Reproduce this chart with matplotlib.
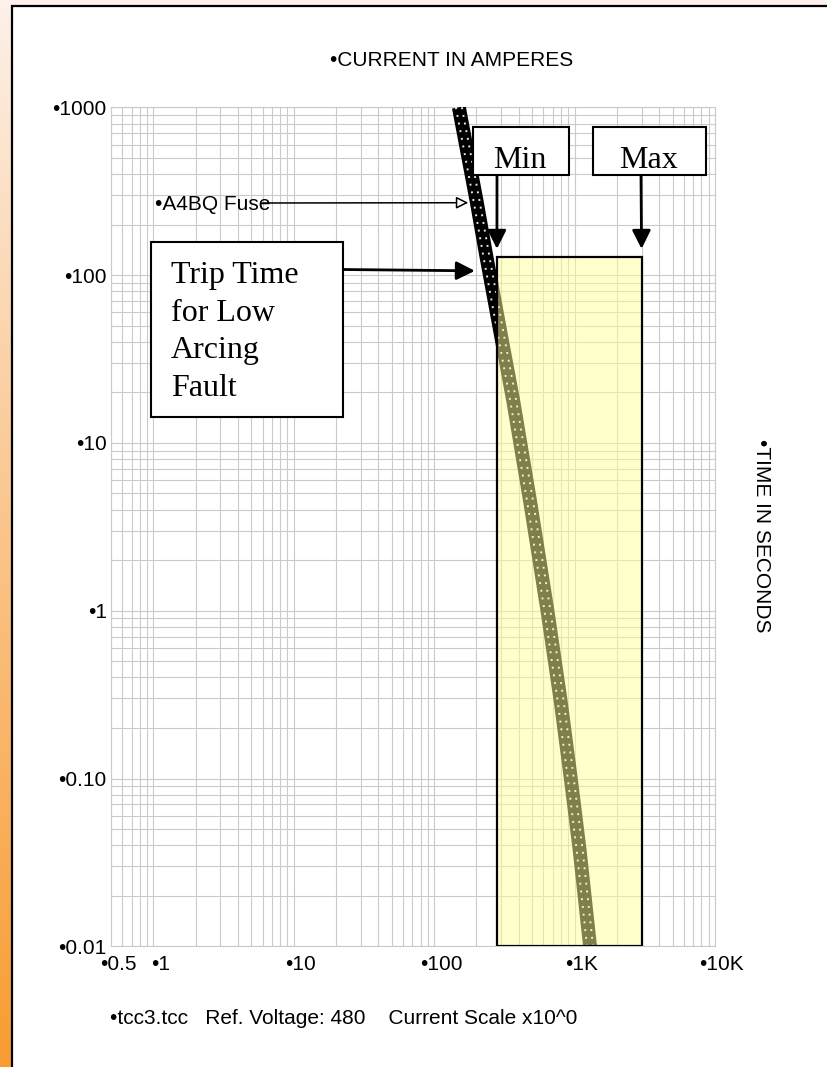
import numpy as np
import matplotlib
matplotlib.use("Agg")
import matplotlib.pyplot as plt
from matplotlib.patches import Rectangle
from matplotlib.ticker import LogLocator, NullFormatter, FixedLocator
from matplotlib.transforms import offset_copy, ScaledTranslation

# --- data ---
fuse_current = [150, 200, 236, 310, 365, 482, 641, 794, 940, 1086, 1289]    # amperes
fuse_time = [1000, 280, 128, 37.3, 18, 4.5, 1, 0.294, 0.1, 0.0376, 0.01]     # seconds

arc_min_current = 280     # low arcing fault, min current
arc_max_current = 3000    # max current
arc_trip_time = 128       # trip time for low arcing fault

x_ticks = [0.5, 1, 10, 100, 1000, 10000]
x_labels = ["\u20220.5", "\u20221", "\u202210", "\u2022100", "\u20221K", "\u202210K"]
y_ticks = [0.01, 0.1, 1, 10, 100, 1000]
y_labels = ["\u20220.01", "\u20220.10", "\u20221", "\u202210", "\u2022100", "\u20221000"]

SANS = ["Liberation Sans", "DejaVu Sans"]
SERIF = ["Liberation Serif", "DejaVu Serif"]
FS = 15
W, H = 827, 1067


def fp(x, y):
    """pixel position (from top-left) -> figure fraction"""
    return (x / W, 1 - y / H)


fig = plt.figure(figsize=(W / 100, H / 100), dpi=100)

# background: pale frame with orange gradient strip on the left
bg = fig.add_axes([0, 0, 1, 1], zorder=-5)
bg.axis("off")
bg.add_patch(Rectangle((0, 0), W, H, color="#fdf1ea", lw=0, zorder=0))
c_top = np.array([253, 241, 234]) / 255
c_bot = np.array([248, 156, 50]) / 255
t = np.linspace(0, 1, 256) ** 0.95
grad = (c_top[None, :] * (1 - t[:, None]) + c_bot[None, :] * t[:, None])[:, None, :]
bg.imshow(grad, extent=[0, 12, H, 0], aspect="auto", interpolation="bilinear", zorder=1)
bg.add_patch(Rectangle((12, 5), W, H, facecolor="white", edgecolor="none", zorder=2))
bg.plot([12, 12, W], [H, 5.5, 5.5], color="black", lw=1.6, solid_joinstyle="miter", zorder=3)
bg.set_xlim(0, W)
bg.set_ylim(H, 0)

# main log-log axes
ax = fig.add_axes([111 / W, 1 - 946.3 / H, 604 / W, 839 / H])
ax.set_xscale("log")
ax.set_yscale("log")
ax.set_xlim(0.5, 10000)
ax.set_ylim(0.01, 1000)

ax.xaxis.set_major_locator(FixedLocator(x_ticks))
ax.set_xticklabels(x_labels)
ax.yaxis.set_major_locator(FixedLocator(y_ticks))
ax.set_yticklabels(y_labels)
ax.xaxis.set_minor_locator(LogLocator(base=10, subs=range(2, 10), numticks=50))
ax.yaxis.set_minor_locator(LogLocator(base=10, subs=range(2, 10), numticks=50))
ax.xaxis.set_minor_formatter(NullFormatter())
ax.yaxis.set_minor_formatter(NullFormatter())
ax.tick_params(which="both", length=0)
ax.tick_params(axis="x", pad=6)
ax.tick_params(axis="y", pad=3)
for lab in ax.get_xticklabels():
    lab.set_fontfamily(SANS)
    lab.set_fontsize(FS)
    lab.set_transform(lab.get_transform() + ScaledTranslation(7 / 100, 0, fig.dpi_scale_trans))
for lab in ax.get_yticklabels():
    lab.set_fontfamily(SANS)
    lab.set_fontsize(FS)

ax.grid(True, which="both", color="#cacaca", lw=0.8)
for s in ax.spines.values():
    s.set_color("#cacaca")
    s.set_linewidth(0.8)
ax.set_axisbelow(True)

# fuse curve: black band with white dots
ax.plot(fuse_current, fuse_time, color="black", lw=10, solid_capstyle="butt",
        solid_joinstyle="round", zorder=3)
for dx in (-3.0, 3.0):
    tr = offset_copy(ax.transData, fig=fig, x=dx, y=0, units="dots")
    ax.plot(fuse_current, fuse_time, color="white", lw=1.4, ls=(0, (1, 3.0)),
            transform=tr, zorder=4, alpha=0.9)

# arcing fault region (semi-transparent yellow)
ax.add_patch(Rectangle((arc_min_current, 0.01), arc_max_current - arc_min_current,
                       arc_trip_time - 0.01, facecolor=(1, 1, 0.6, 0.5),
                       edgecolor="black", lw=1.6, zorder=5))

# axis titles
fig.text(*fp(452, 61), "\u2022CURRENT IN AMPERES", ha="center", va="center",
         fontsize=FS, family=SANS)
fig.text(*fp(761, 536), "\u2022TIME IN SECONDS", ha="center", va="center",
         rotation=-90, fontsize=FS, family=SANS)
fig.text(*fp(110, 1018), "\u2022tcc3.tcc   Ref. Voltage: 480    Current Scale x10^0",
         ha="left", va="center", fontsize=FS, family=SANS)

# Min / Max boxes with arrows
for (x0, x1), xa, label, cur in [((473, 569), 497, "Min", arc_min_current),
                                 ((593, 706), 641, "Max", arc_max_current)]:
    fig.add_artist(Rectangle(fp(x0, 175), (x1 - x0) / W, 48 / H,
                             transform=fig.transFigure, facecolor="white",
                             edgecolor="black", lw=1.5, zorder=6))
    fig.text(*fp((x0 + x1) / 2 - 1, 168), label, ha="center", va="baseline",
             fontsize=23, family=SERIF, zorder=7)
    ax.annotate("", xy=(cur, arc_trip_time * 1.12), xycoords="data",
                xytext=fp(xa, 175), textcoords="figure fraction", annotation_clip=False,
                arrowprops=dict(arrowstyle="-|>", color="black", lw=2,
                                mutation_scale=28, shrinkA=0, shrinkB=0), zorder=7)

# Trip time box
fig.add_artist(Rectangle(fp(151, 417), 192 / W, 175 / H, transform=fig.transFigure,
                         facecolor="white", edgecolor="black", lw=1.5, zorder=6))
fig.text(*fp(171, 332), "Trip Time\nfor Low\nArcing\nFault", ha="left", va="center",
         fontsize=23, family=SERIF, linespacing=1.38, zorder=7)
ax.annotate("", xy=(195, 106), xycoords="data", xytext=fp(343, 269.5),
            textcoords="figure fraction", annotation_clip=False,
            arrowprops=dict(arrowstyle="-|>", color="black", lw=2,
                            mutation_scale=28, shrinkA=0, shrinkB=0), zorder=7)

# fuse label with open arrow
fig.text(*fp(155, 205), "\u2022A4BQ Fuse", ha="left", va="center", fontsize=FS,
         family=SANS, zorder=7)
ax.annotate("", xy=(175, 270), xycoords="data", xytext=fp(262, 203),
            textcoords="figure fraction", annotation_clip=False,
            arrowprops=dict(arrowstyle="-|>", facecolor="white", edgecolor="black",
                            lw=1.1, mutation_scale=18, shrinkA=0, shrinkB=0), zorder=6)

fig.savefig("out.png", dpi=100)
